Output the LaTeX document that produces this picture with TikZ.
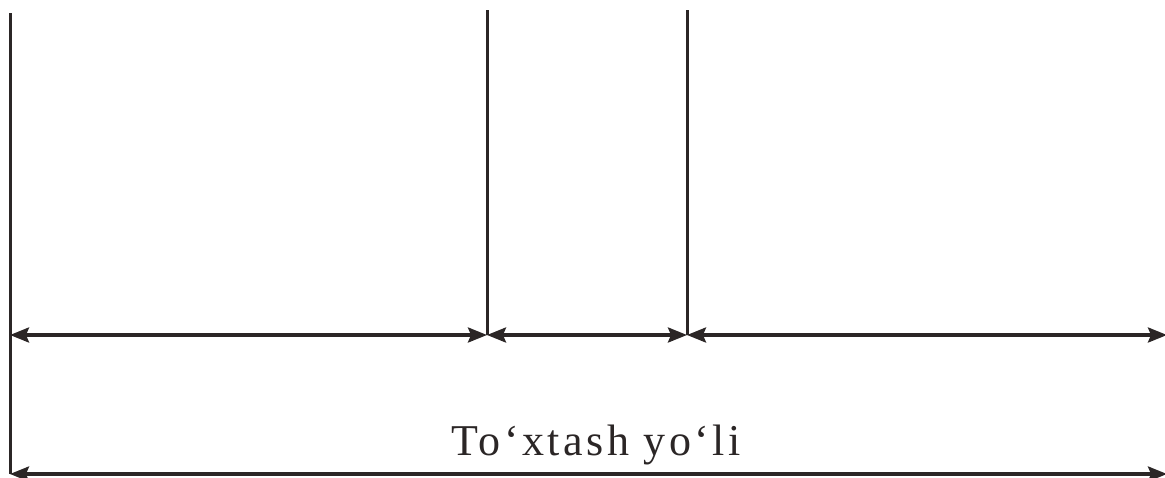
\documentclass[tikz,border=0pt]{standalone}
\usepackage{fontspec}
\setmainfont{Liberation Serif}
\newfontfamily\lblfont[LetterSpace=8]{Liberation Serif}
\usetikzlibrary{arrows.meta}
\definecolor{ink}{HTML}{2B2626}
\tikzset{
  wall/.style={draw=ink, line width=3pt},
  tip/.tip={Stealth[length=19pt,width=15pt,inset=3pt]},
  dim/.style={draw=ink, line width=3.2pt, tip-tip},
  lbl/.style={text=ink, font=\lblfont\fontsize{44}{50}\selectfont, inner sep=0pt}
}
\begin{document}
\begin{tikzpicture}[x=1pt,y=-1pt]
\useasboundingbox (0,0) rectangle (1165,477);
\coordinate (aT) at (10,13);
\coordinate (aM) at (10,335);
\coordinate (aB) at (10,474);
\coordinate (bT) at (487,10);
\coordinate (bM) at (487,335);
\coordinate (cT) at (687,10);
\coordinate (cM) at (687,335);
\coordinate (dM) at (1167,335);
\coordinate (dB) at (1167,474);
\draw[wall] (aT) -- (aB);
\draw[wall] (bT) -- (bM);
\draw[wall] (cT) -- (cM);
\draw[dim] (aM) -- (bM);
\draw[dim] (bM) -- (cM);
\draw[dim] (cM) -- (dM);
\draw[dim] (aB) -- (dB);
\node[lbl, anchor=base] (t) at (596,455) {To‘xtash yo‘li};
\end{tikzpicture}
\end{document}
